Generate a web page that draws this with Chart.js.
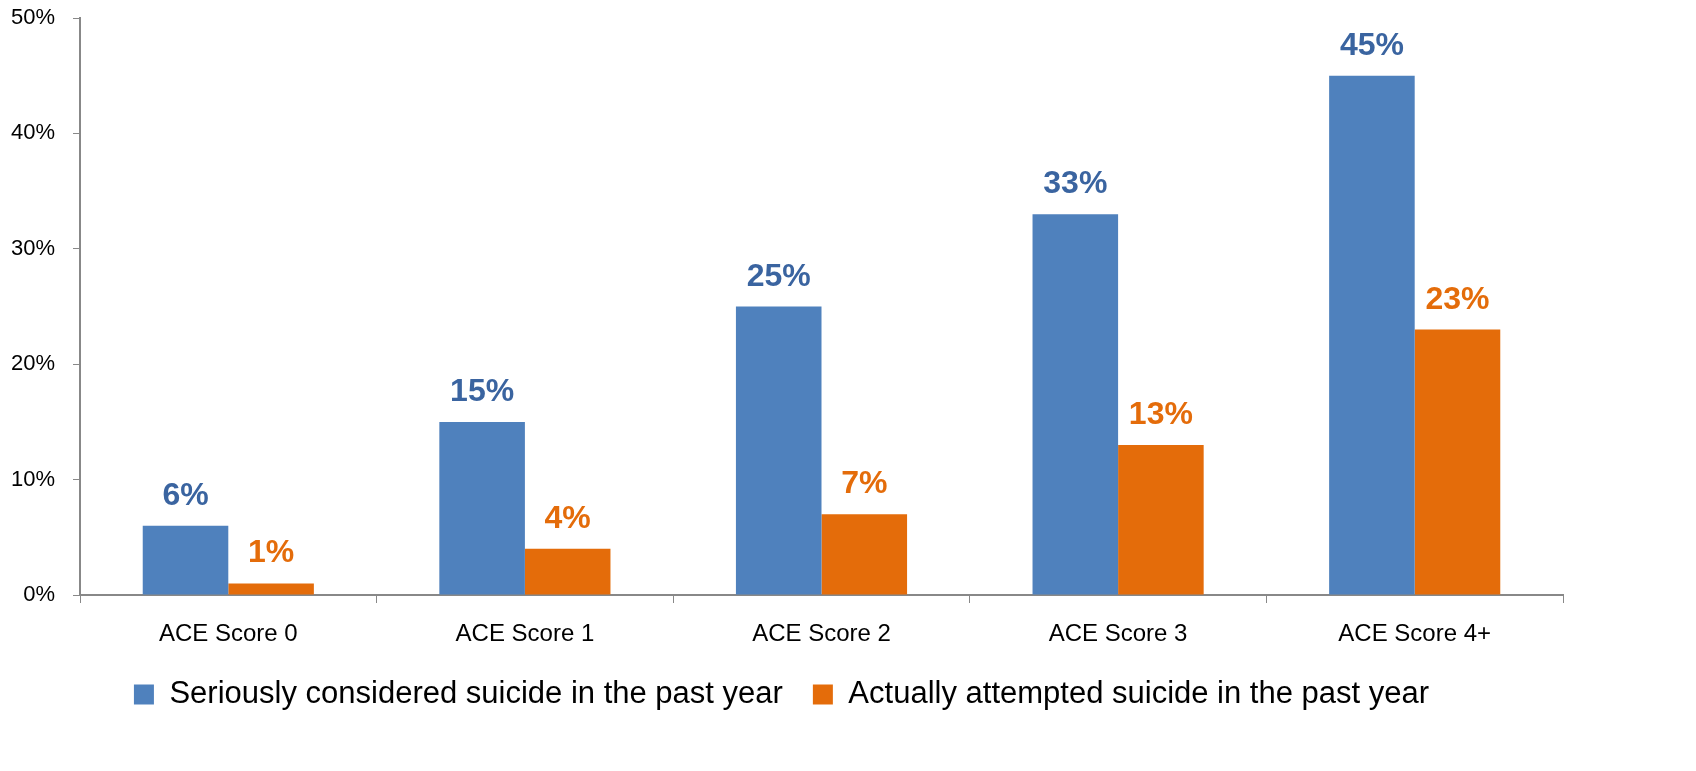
<!DOCTYPE html>
<html>
<head>
<meta charset="utf-8">
<script src="https://cdn.jsdelivr.net/npm/chart.js@4.4.0/dist/chart.umd.min.js"></script>
<style>
  html, body { margin: 0; padding: 0; background: #fff; }
  #wrap { width: 1696px; height: 771px; }
</style>
</head>
<body>
<div id="wrap"><canvas id="chart"></canvas></div>
<script>
/* ── DATA ── */
const categories = ['ACE Score 0', 'ACE Score 1', 'ACE Score 2', 'ACE Score 3', 'ACE Score 4+'];
const considered = [6, 15, 25, 33, 45];
const attempted  = [1, 4, 7, 13, 23];
const seriesNames = ['Seriously considered suicide in the past year', 'Actually attempted suicide in the past year'];

const FONT = "'Liberation Sans', Arial, sans-serif";
const AXIS = '#888888';

// value labels above bars
const barLabels = {
  id: 'barLabels',
  afterDatasetsDraw(chart) {
    const ctx = chart.ctx;
    ctx.save();
    ctx.font = 'bold 32px ' + FONT;
    ctx.textAlign = 'center';
    ctx.textBaseline = 'alphabetic';
    chart.data.datasets.forEach((ds, i) => {
      const meta = chart.getDatasetMeta(i);
      ctx.fillStyle = ds.labelColor;
      meta.data.forEach((bar, j) => {
        ctx.fillText(ds.data[j] + '%', bar.x, bar.y - 21);
      });
    });
    ctx.restore();
  }
};

new Chart(document.getElementById('chart'), {
  type: 'bar',
  data: {
    labels: categories,
    datasets: [
      { label: seriesNames[0], data: considered, backgroundColor: '#4F81BD', labelColor: '#3A64A0' },
      { label: seriesNames[1], data: attempted,  backgroundColor: '#E46C0A', labelColor: '#E46C0A' },
    ]
  },
  options: {
    responsive: true,
    maintainAspectRatio: false,
    animation: false,
    categoryPercentage: 0.577,
    barPercentage: 1.0,
    layout: { padding: { top: 18, right: 133, left: 0, bottom: 51 } },
    plugins: {
      tooltip: { enabled: false },
      legend: {
        position: 'bottom',
        labels: {
          boxWidth: 20, boxHeight: 20, padding: 30,
          color: '#000', font: { family: FONT, size: 31 }
        }
      }
    },
    scales: {
      x: {
        grid: { display: true, drawOnChartArea: false, drawTicks: true, tickLength: 8, color: AXIS, offset: true },
        border: { display: true, color: AXIS, width: 2 },
        ticks: { color: '#000', font: { family: FONT, size: 24 }, padding: 17, maxRotation: 0 },
        afterFit: s => { s.height = 54; s.paddingLeft = 0; s.paddingRight = 0; }
      },
      y: {
        min: 0, max: 50,
        grid: { display: true, drawOnChartArea: false, drawTicks: true, tickLength: 7, color: AXIS },
        border: { display: true, color: AXIS, width: 2 },
        ticks: { stepSize: 10, color: '#000', font: { family: FONT, size: 22 }, padding: 18, callback: v => v + '%' },
        afterFit: s => { s.width = 80; s.paddingTop = 0; s.paddingBottom = 0; }
      }
    }
  },
  plugins: [barLabels]
});
</script>
</body>
</html>
